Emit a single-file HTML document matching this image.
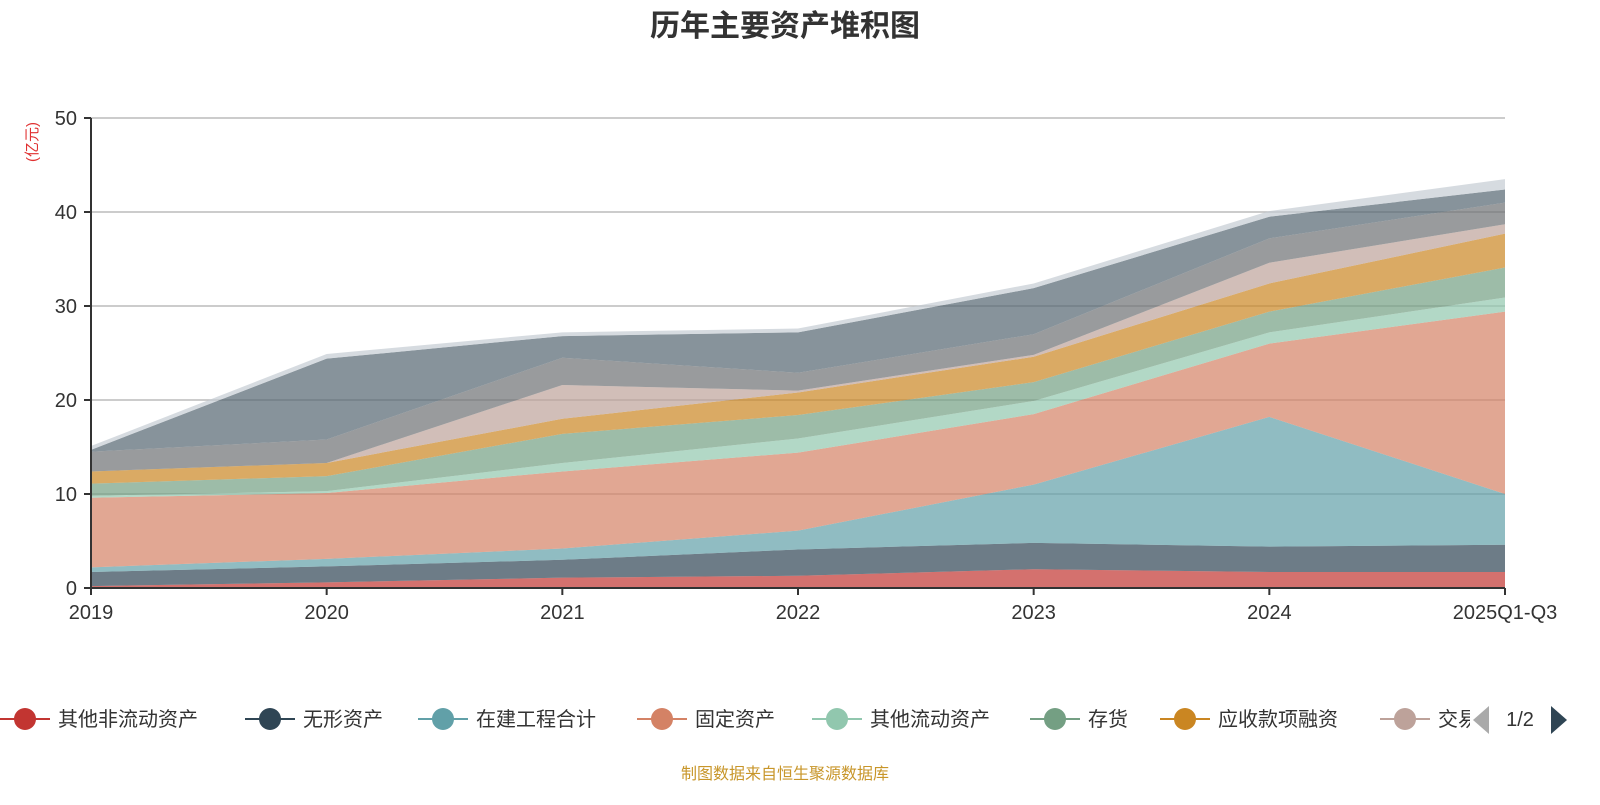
<!DOCTYPE html>
<html><head><meta charset="utf-8"><style>
body{margin:0;background:#fff;font-family:"Liberation Sans","Noto Sans CJK SC",sans-serif}
</style></head><body>
<svg id="c" width="1600" height="800" xmlns="http://www.w3.org/2000/svg">
<text x="785" y="36" text-anchor="middle" font-size="30" font-weight="bold" fill="#333" font-family="Liberation Sans,Noto Sans CJK SC,sans-serif">历年主要资产堆积图</text>
<text transform="translate(37,142) rotate(-90)" text-anchor="middle" font-size="15" fill="#e03030" font-family="Liberation Sans,Noto Sans CJK SC,sans-serif">(亿元)</text>
<g id="grid"></g><g id="areas"></g><g id="axes"></g><g id="legend"></g>
<text x="785" y="779" text-anchor="middle" font-size="16" fill="#c8962a" font-family="Liberation Sans,Noto Sans CJK SC,sans-serif">制图数据来自恒生聚源数据库</text>
</svg>
<script>
const categories=["2019","2020","2021","2022","2023","2024","2025Q1-Q3"];
const seriesNames=["其他非流动资产","无形资产","在建工程合计","固定资产","其他流动资产","存货","应收款项融资","交易性金融资产","货币资金","其他应收款","其他"];
const s1=[0.2,0.6,1.1,1.3,2.0,1.7,1.7];
const s2=[1.5,1.7,1.9,2.8,2.8,2.7,2.9];
const s3=[0.5,0.8,1.2,2.0,6.2,13.8,5.4];
const s4=[7.4,7.0,8.2,8.3,7.5,7.8,19.4];
const s5=[0.2,0.2,0.9,1.5,1.4,1.2,1.5];
const s6=[1.3,1.6,3.1,2.5,2.0,2.2,3.2];
const s7=[1.3,1.4,1.6,2.4,2.7,3.0,3.6];
const s8=[0,0,3.6,0.2,0.2,2.2,1.0];
const s9=[2.1,2.5,2.9,1.9,2.2,2.6,2.3];
const s10=[0.2,8.6,2.3,4.3,4.9,2.3,1.4];
const s11=[0.4,0.5,0.4,0.4,0.5,0.6,1.1];
const yTicks=[0,10,20,30,40,50];
const series=[s1,s2,s3,s4,s5,s6,s7,s8,s9,s10,s11];
const colors=["#c23531","#2f4554","#61a0a8","#d48265","#91c7ae","#749f83","#ca8622","#bda29a","#6e7074","#546570","#c4ccd3"];
const NS="http://www.w3.org/2000/svg";
const X0=91,X1=1505,Y0=588,Y1=118;
const xs=i=>X0+(X1-X0)*i/(categories.length-1);
const ys=v=>Y0-(Y0-Y1)*v/50;
function mk(t,a,p){const e=document.createElementNS(NS,t);for(const k in a)e.setAttribute(k,a[k]);p.appendChild(e);return e;}
const F="Liberation Sans,Noto Sans CJK SC,sans-serif";
const grid=document.getElementById('grid'),axes=document.getElementById('axes'),areas=document.getElementById('areas'),leg=document.getElementById('legend');
yTicks.forEach(t=>{
 if(t>0){const l=mk('line',{x1:X0,x2:X1,y1:ys(t),y2:ys(t),stroke:'#bbb','stroke-width':1.5},grid);
 
 }
 const tk=mk('line',{x1:X0-7,x2:X0,y1:ys(t),y2:ys(t),stroke:'#333','stroke-width':2},axes);
 
 
 const tx=mk('text',{x:X0-14,y:ys(t)+7,'text-anchor':'end','font-size':20,fill:'#333','font-family':F},axes);tx.textContent=t;
 
 
});
let cum=categories.map(()=>0);
series.forEach((s,k)=>{
 const lo=cum.slice();cum=cum.map((c,i)=>c+s[i]);
 let d='M'+cum.map((v,i)=>xs(i)+','+ys(v)).join('L');
 for(let i=lo.length-1;i>=0;i--)d+='L'+xs(i)+','+ys(lo[i]);
 const p=mk('path',{d:d+'Z',fill:colors[k],'fill-opacity':0.7},areas);
 
 
});
const ax=mk('line',{x1:X0,x2:X0,y1:Y1,y2:Y0,stroke:'#333','stroke-width':2},axes);


const bx=mk('line',{x1:X0,x2:X1,y1:Y0,y2:Y0,stroke:'#333','stroke-width':2},axes);


categories.forEach((c,i)=>{
 const tk=mk('line',{x1:xs(i),x2:xs(i),y1:Y0,y2:Y0+7,stroke:'#333','stroke-width':2},axes);
 
 
 const t=mk('text',{x:xs(i),y:619,'text-anchor':'middle','font-size':20,fill:'#333','font-family':F},axes);t.textContent=c;
 
 
});
const lx=[0,245,418,637,812,1030,1160,1380];
lx.forEach((x,k)=>{
 const g=mk('g',{},leg);
 
 
 mk('line',{x1:x,x2:x+50,y1:719,y2:719,stroke:colors[k],'stroke-width':2},g);
 mk('circle',{cx:x+25,cy:719,r:11,fill:colors[k]},g);
 const t=mk('text',{x:x+58,y:726,'font-size':20,fill:'#333','font-family':F},g);t.textContent=seriesNames[k];
});
const cp=mk('clipPath',{id:'lc'},leg);mk('rect',{x:0,y:690,width:1470,height:60},cp);
leg.querySelectorAll('g').forEach(g=>g.setAttribute('clip-path','url(#lc)'));
const pl=mk('path',{d:'M1489,706L1473,720L1489,734Z',fill:'#aaa'},leg);


const pt=mk('text',{x:1520,y:726,'text-anchor':'middle','font-size':20,fill:'#333','font-family':F},leg);pt.textContent='1/2';


const pn=mk('path',{d:'M1551,706L1567,720L1551,734Z',fill:'#2f4554'},leg);


</script>
</body></html>
